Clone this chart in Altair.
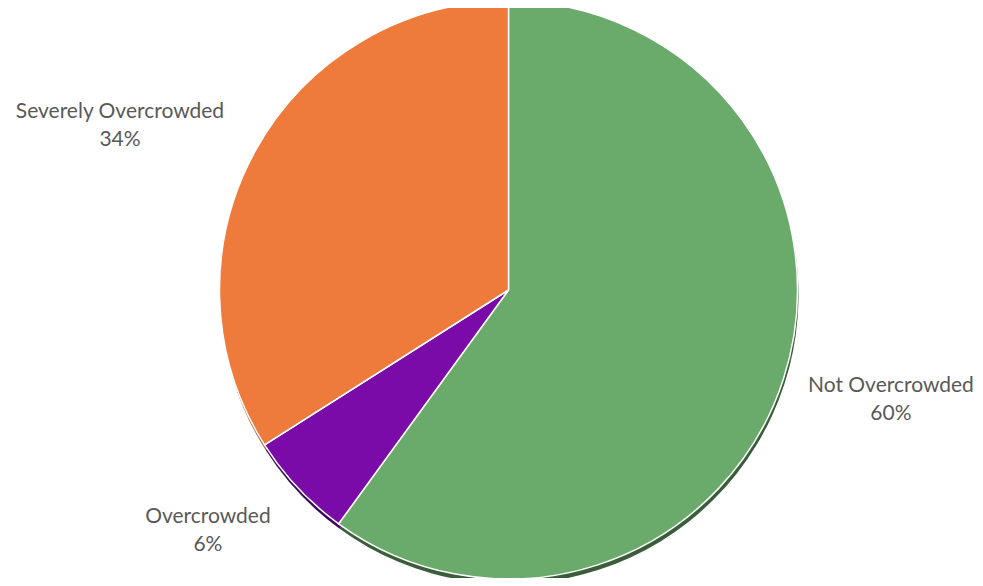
import altair as alt
import pandas as pd

categories = ["Not Overcrowded", "Overcrowded", "Severely Overcrowded"]
values = [60, 6, 34]
colors = ["#6AAA6A", "#7A0BA8", "#EE7A3C"]
shadow_colors = ["#3A5E3A", "#3E0858", "#A8542A"]

df = pd.DataFrame({
    "category": categories,
    "value": values,
    "idx": list(range(len(categories))),
    "label": [f"{c}\n{v}%" for c, v in zip(categories, values)],
})

base = alt.Chart(df)
CX, CY, R = 500.5, 282, 289

shadow = base.mark_arc(outerRadius=R).encode(
    theta=alt.Theta("value:Q", stack=True),
    order=alt.Order("idx:Q"),
    color=alt.Color("category:N", scale=alt.Scale(domain=categories, range=shadow_colors), legend=None),
    x=alt.value(CX + 1),
    y=alt.value(CY + 5),
)

pie = base.mark_arc(outerRadius=R, stroke="white", strokeWidth=1.5).encode(
    theta=alt.Theta("value:Q", stack=True),
    order=alt.Order("idx:Q"),
    color=alt.Color("category:N", scale=alt.Scale(domain=categories, range=colors), legend=None),
    x=alt.value(CX),
    y=alt.value(CY),
)

label_base = base.transform_window(
    cum="sum(value)", sort=[alt.SortField("idx")], frame=[None, 0]
).transform_calculate(mid="datum.cum - datum.value / 2")

offsets = {
    "Not Overcrowded": (2, -28),
    "Overcrowded": (-9, -47),
    "Severely Overcrowded": (-38, 15),
}

label_layers = []
for cat in categories:
    ddx, ddy = offsets[cat]
    label_layers.append(
        label_base.transform_filter(alt.datum.category == cat).mark_text(
            font="Lato", fontSize=21, color="#595959", lineBreak="\n",
            align="center", baseline="middle", lineHeight=28, dx=ddx, dy=ddy,
        ).encode(
            theta=alt.Theta("mid:Q", stack=None, scale=alt.Scale(domain=[0, 100])),
            radius=alt.value(400),
            text="label:N",
            x=alt.value(CX),
            y=alt.value(CY),
        )
    )

chart = alt.layer(shadow, pie, *label_layers).resolve_scale(
    theta="independent", color="independent"
).properties(
    width=967, height=570, padding=0,
    autosize=alt.AutoSizeParams(type="none"),
).configure_view(stroke=None)

chart.save("out.html", embed_options={"renderer": "svg", "actions": False})
